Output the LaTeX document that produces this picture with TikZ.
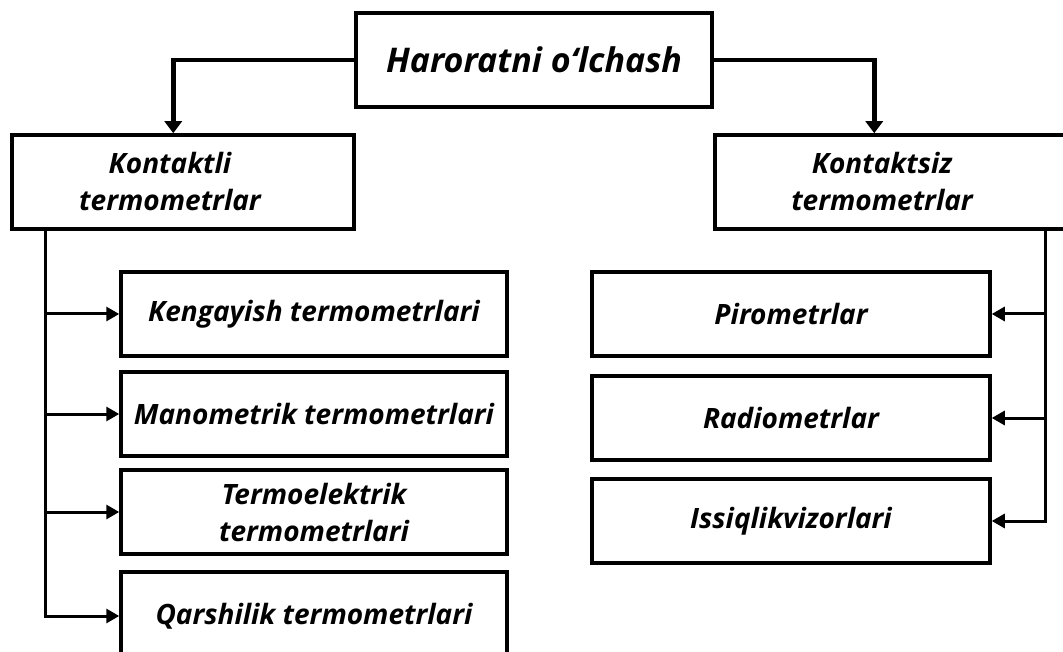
\documentclass[tikz,border=0pt]{standalone}
\usepackage{fontspec}
\setmainfont{Open Sans}
\usetikzlibrary{arrows.meta}

\begin{document}
\begin{tikzpicture}[x=1pt, y=-1pt,
		box/.style={draw, line width=3.5pt, align=center, inner sep=0pt,
			font=\fontsize{28}{37}\selectfont\bfseries\itshape},
		main arrow/.style={line width=4.5pt, -{Triangle[length=12pt, width=17pt]}},
		child arrow/.style={line width=3pt, -{Triangle[length=13pt, width=14pt]}}]
		
		\useasboundingbox (0,0) rectangle (1063,652);
		\clip (0,0) rectangle (1063,652);
		
		% Top box
		\node[box, minimum width=356pt, minimum height=94pt,
			font=\fontsize{34}{40}\selectfont\bfseries\itshape] (root) at (534,60) {Haroratni o‘lchash};
		
		% Two groups
		\node[box, minimum width=342pt, minimum height=94pt] (kl) at (183,182) {Kontaktli\hspace*{26pt}\\termometrlar\hspace*{26pt}};
		\node[box, minimum width=400pt, minimum height=94pt] (ks) at (915,182) {\hspace*{-66pt}Kontaktsiz\\\hspace*{-66pt}termometrlar};
		
		% Contact thermometers
		\node[box, minimum width=386pt, minimum height=84pt] (k1) at (314,314) {Kengayish termometrlari};
		\node[box, minimum width=386pt, minimum height=84pt] (k2) at (314,414) {Manometrik termometrlari};
		\node[box, minimum width=386pt, minimum height=84pt] (k3) at (314,512) {Termoelektrik\\termometrlari};
		\node[box, minimum width=386pt, minimum height=88pt] (k4) at (314,616) {Qarshilik termometrlari};
		
		% Non-contact thermometers
		\node[box, minimum width=398pt, minimum height=84pt] (p1) at (791,314) {Pirometrlar};
		\node[box, minimum width=398pt, minimum height=84pt] (p2) at (791,418) {Radiometrlar};
		\node[box, minimum width=398pt, minimum height=84pt] (p3) at (791,521) {Issiqlikvizorlari};
		
		% Arrows from top
		\draw[main arrow] (root.west) -| ([xshift=163pt]kl.north west);
		\draw[main arrow] (root.east) -| ([xshift=161pt]ks.north west);
		
		% Left and right trunks
		\foreach \n in {k1,k2,k3,k4}
			\draw[child arrow] ([xshift=35pt]kl.south west) |- (\n.west);
		\foreach \n in {p1,p2,p3}
			\draw[child arrow] ([xshift=332pt]ks.south west) |- (\n.east);
		
	\end{tikzpicture}
\end{document}
